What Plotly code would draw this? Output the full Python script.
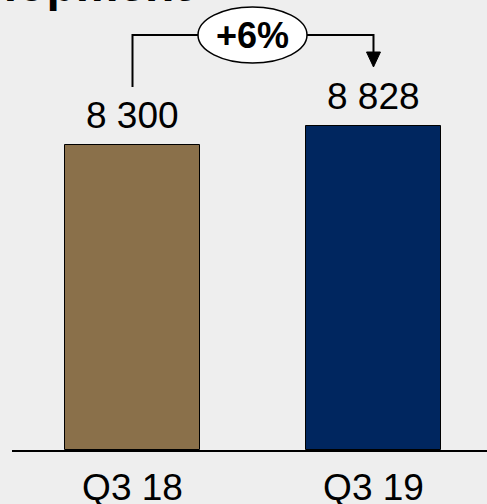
import plotly.graph_objects as go

categories = ["Q3 18", "Q3 19"]
values = [8300, 8828]
bar_colors = ["#8A704A", "#00265F"]
title_text = "Development"

FONT = "Arial, Liberation Sans, sans-serif"
xpos = list(range(len(categories)))

def fmt(v):
    return f"{v:,}".replace(",", " ")

growth = round((values[1] / values[0] - 1) * 100)

fig = go.Figure()
fig.add_trace(go.Bar(
    x=xpos, y=values, width=0.56,
    marker=dict(color=bar_colors, line=dict(color="#000000", width=1)),
    hoverinfo="skip",
))

# scale helper: pixel row -> data value (plot area is 450px tall)
YMAX = 12254
def py(p):
    return (450 - p) / 450 * YMAX
def px(p):
    return (p - 12) / 475 * 1.971 - 0.5

annotations = []
for x, v in zip(xpos, values):
    annotations.append(dict(x=x, y=v, xref="x", yref="y", text=fmt(v), showarrow=False,
                            yanchor="bottom", yshift=7,
                            font=dict(family=FONT, size=37, color="#000000")))

# growth bubble
y_line = py(35)
annotations.append(dict(x=0.5, y=y_line, xref="x", yref="y", text=f"<b>+{growth}%</b>",
                        showarrow=False, font=dict(family=FONT, size=36, color="#000000")))
# title (clipped at top)
annotations.append(dict(x=(192 - 12) / 475, y=1, xref="paper", yref="paper",
                        text=f"<b>{title_text}</b>",
                        showarrow=False, xanchor="right", yanchor="bottom", yshift=-13.5,
                        font=dict(family=FONT, size=48, color="#000000")))

shapes = [
    dict(type="path", xref="x", yref="y",
         path=f"M {xpos[0]},{py(87)} L {xpos[0]},{y_line} L {px(200)},{y_line}",
         line=dict(color="#000000", width=2)),
    dict(type="path", xref="x", yref="y",
         path=f"M {px(306)},{y_line} L {xpos[1]},{y_line} L {xpos[1]},{py(53)}",
         line=dict(color="#000000", width=2)),
    dict(type="path", xref="x", yref="y",
         path=f"M {xpos[1]-0.029},{py(52)} L {xpos[1]+0.029},{py(52)} L {xpos[1]},{py(67)} Z",
         fillcolor="#000000", line=dict(color="#000000", width=1)),
    dict(type="circle", xref="x", yref="y",
         x0=px(198), x1=px(307), y0=py(63), y1=py(7),
         fillcolor="#FFFFFF", line=dict(color="#000000", width=1.5), layer="above"),
]

fig.update_layout(
    width=487, height=504,
    margin=dict(l=12, r=0, t=0, b=54, pad=0, autoexpand=False),
    paper_bgcolor="#EEEEEE", plot_bgcolor="#EEEEEE",
    showlegend=False,
    xaxis=dict(range=[-0.5, 1.471], tickvals=xpos, ticktext=categories, automargin=False,
               showgrid=False, zeroline=False, showline=True, linecolor="#000000", linewidth=1.5,
               ticks="outside", ticklen=4, tickcolor="rgba(0,0,0,0)",
               tickfont=dict(family=FONT, size=37, color="#000000"), fixedrange=True),
    yaxis=dict(range=[0, YMAX], visible=False, fixedrange=True, automargin=False),
    annotations=annotations,
    shapes=shapes,
    bargap=0,
)

fig.write_html("out.html", config={"displayModeBar": False})
